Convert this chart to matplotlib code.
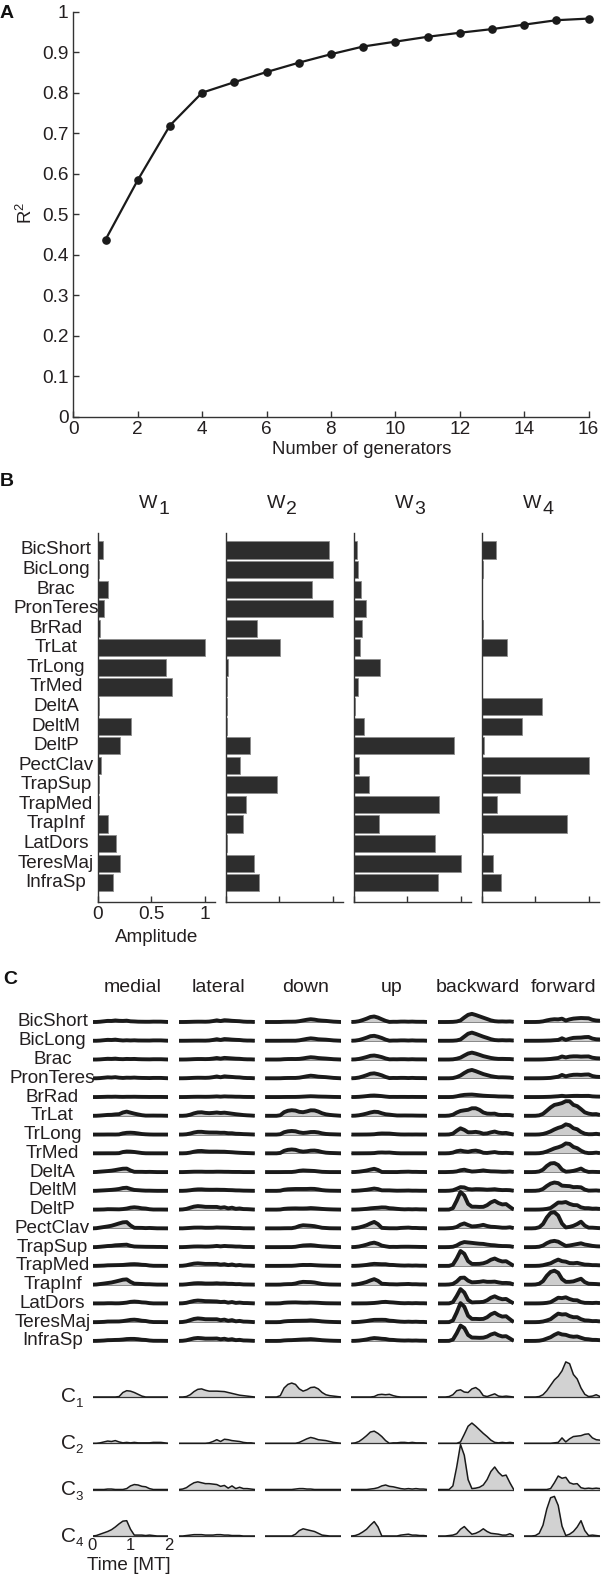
import numpy as np
import matplotlib
matplotlib.use('Agg')
import matplotlib.pyplot as plt

plt.rcParams['font.family'] = ['Liberation Sans', 'DejaVu Sans']
plt.rcParams['mathtext.fontset'] = 'custom'
plt.rcParams['mathtext.rm'] = 'Liberation Sans'
plt.rcParams['mathtext.it'] = 'Liberation Sans:italic'

# ---------------- data ----------------
n_generators = list(range(1, 17))
r2 = [0.437, 0.584, 0.719, 0.800, 0.826, 0.851, 0.874, 0.895, 0.914, 0.926,
      0.938, 0.948, 0.957, 0.968, 0.979, 0.983]

muscles = ['BicShort', 'BicLong', 'Brac', 'PronTeres', 'BrRad', 'TrLat', 'TrLong',
           'TrMed', 'DeltA', 'DeltM', 'DeltP', 'PectClav', 'TrapSup', 'TrapMed',
           'TrapInf', 'LatDors', 'TeresMaj', 'InfraSp']

W1 = [0.054, 0.01, 0.096, 0.06, 0.018, 1.0, 0.643, 0.693, 0.014, 0.31, 0.207,
      0.03, 0.01, 0.015, 0.10, 0.171, 0.21, 0.143]
W2 = [0.971, 1.0, 0.81, 1.0, 0.296, 0.507, 0.018, 0.014, 0.01, 0.01, 0.232,
      0.136, 0.482, 0.186, 0.164, 0.014, 0.264, 0.31]
W3 = [0.029, 0.036, 0.064, 0.114, 0.075, 0.057, 0.243, 0.039, 0.014, 0.10, 0.936,
      0.046, 0.143, 0.796, 0.236, 0.764, 1.0, 0.793]
W4 = [0.136, 0.014, 0.007, 0.005, 0.01, 0.239, 0.004, 0.007, 0.561, 0.375, 0.018,
      1.0, 0.361, 0.146, 0.796, 0.01, 0.107, 0.182]

directions = ['medial', 'lateral', 'down', 'up', 'backward', 'forward']
time_mt = np.round(np.arange(21) * 0.1, 1)   # 0 .. 2 MT

C1 = [
    [0, 0, 0, 0, 0, 0, 0, 0.01, 0.1, 0.14, 0.13, 0.1, 0.06, 0.02, 0, 0, 0, 0, 0, 0, 0],
    [0, 0, 0.01, 0.05, 0.12, 0.17, 0.18, 0.15, 0.13, 0.13, 0.13, 0.125, 0.12, 0.1, 0.08, 0.06, 0.04, 0.03, 0.02, 0.01, 0],
    [0, 0, 0, 0, 0.03, 0.2, 0.28, 0.31, 0.28, 0.18, 0.13, 0.16, 0.21, 0.22, 0.18, 0.1, 0.05, 0.03, 0.02, 0.01, 0],
    [0, 0, 0, 0, 0, 0, 0.01, 0.05, 0.06, 0.05, 0.06, 0.03, 0.01, 0, 0, 0, 0, 0, 0, 0, 0],
    [0, 0, 0, 0.01, 0.05, 0.14, 0.16, 0.11, 0.1, 0.18, 0.21, 0.15, 0.03, 0.01, 0.04, 0.07, 0.02, 0.01, 0.02, 0.01, 0],
    [0, 0, 0, 0, 0.01, 0.05, 0.14, 0.26, 0.38, 0.46, 0.58, 0.78, 0.74, 0.5, 0.4, 0.2, 0.06, 0.01, 0.02, 0.05, 0.01],
]
C2 = [
    [0, 0, 0.01, 0.03, 0.05, 0.04, 0.06, 0.03, 0.01, 0.02, 0.01, 0.02, 0.01, 0.01, 0.01, 0.01, 0.02, 0.02, 0.02, 0.01, 0],
    [0, 0, 0, 0, 0, 0, 0, 0, 0.01, 0.04, 0.08, 0.04, 0.09, 0.08, 0.06, 0.05, 0.04, 0.02, 0.01, 0.01, 0],
    [0, 0, 0, 0, 0, 0, 0, 0, 0, 0.02, 0.06, 0.1, 0.13, 0.11, 0.08, 0.07, 0.06, 0.04, 0.02, 0.01, 0],
    [0, 0.01, 0.04, 0.1, 0.17, 0.25, 0.27, 0.22, 0.15, 0.06, 0, 0.01, 0.01, 0.02, 0.02, 0.01, 0.02, 0.01, 0.01, 0.01, 0],
    [0, 0, 0, 0, 0, 0, 0.03, 0.2, 0.38, 0.45, 0.38, 0.3, 0.22, 0.15, 0.07, 0.02, 0.01, 0.02, 0.01, 0.02, 0.01],
    [0, 0, 0, 0, 0, 0, 0, 0, 0.01, 0.02, 0.12, 0.03, 0.1, 0.15, 0.16, 0.17, 0.2, 0.21, 0.12, 0.08, 0.07],
]
C3 = [
    [0, 0, 0, 0, 0.01, 0.01, 0, 0, 0, 0.02, 0.08, 0.11, 0.1, 0.07, 0.06, 0.02, 0, 0, 0, 0, 0],
    [0, 0.01, 0.04, 0.1, 0.15, 0.17, 0.15, 0.13, 0.13, 0.12, 0.11, 0.07, 0.09, 0.03, 0.08, 0.02, 0.05, 0.02, 0.02, 0.01, 0],
    [0, 0, 0, 0, 0, 0, 0, 0, 0.01, 0.02, 0.02, 0.01, 0.01, 0, 0, 0, 0, 0, 0, 0, 0],
    [0, 0, 0, 0, 0, 0.01, 0.02, 0.04, 0.08, 0.1, 0.07, 0.06, 0.04, 0.02, 0.01, 0.02, 0.01, 0.02, 0.01, 0.01, 0],
    [0, 0, 0, 0, 0.08, 0.5, 1.0, 0.76, 0.22, 0.02, 0.03, 0.05, 0.1, 0.22, 0.4, 0.5, 0.38, 0.3, 0.32, 0.15, 0],
    [0, 0, 0, 0, 0, 0, 0, 0.02, 0.15, 0.3, 0.25, 0.27, 0.15, 0.12, 0.13, 0.04, 0.02, 0.03, 0.02, 0.03, 0.02],
]
C4 = [
    [0, 0.01, 0.04, 0.07, 0.1, 0.14, 0.2, 0.27, 0.33, 0.34, 0.15, 0.02, 0.02, 0.02, 0.01, 0.02, 0.01, 0, 0, 0, 0],
    [0, 0, 0.01, 0.02, 0.03, 0.03, 0.03, 0.02, 0.02, 0.02, 0.03, 0.03, 0.02, 0.02, 0.01, 0.01, 0.01, 0, 0, 0, 0],
    [0, 0, 0, 0, 0, 0, 0, 0, 0.04, 0.12, 0.16, 0.14, 0.12, 0.1, 0.06, 0.02, 0.01, 0, 0, 0, 0],
    [0, 0.01, 0.04, 0.09, 0.15, 0.24, 0.32, 0.2, 0, 0, 0, 0, 0, 0.02, 0.03, 0.04, 0.02, 0.02, 0.01, 0.01, 0],
    [0, 0, 0, 0.01, 0.02, 0.05, 0.15, 0.21, 0.12, 0.04, 0.06, 0.1, 0.16, 0.1, 0.06, 0.05, 0.04, 0.02, 0.02, 0.05, 0.01],
    [0, 0, 0, 0.01, 0.06, 0.24, 0.6, 0.85, 0.88, 0.68, 0.22, 0.01, 0.04, 0.1, 0.2, 0.34, 0.12, 0.01, 0.02, 0.01, 0],
]

# ---------------- figure ----------------
FW, FH, DPI = 601, 1579, 100
fig = plt.figure(figsize=(FW / DPI, FH / DPI), dpi=DPI)
TXT = '#231f20'
LINE = '#1a1a1a'


def box(l, t, r, b):
    return [l / FW, 1 - b / FH, (r - l) / FW, (b - t) / FH]


def ftext(x, y, s, **kw):
    kw.setdefault('ha', 'center')
    kw.setdefault('va', 'center')
    kw.setdefault('color', TXT)
    fig.text(x / FW, 1 - y / FH, s, **kw)


FS = 13.3

# ---------------- Panel A ----------------
axA = fig.add_axes(box(73.3, 11.7, 588.5, 416.7))
axA.plot(n_generators, r2, color=LINE, lw=1.6, marker='o', ms=5.2,
         mfc=LINE, mec=LINE, clip_on=False, zorder=3)
axA.set_xlim(0, 16)
axA.set_ylim(0, 1)
axA.set_xticks(range(0, 17, 2))
yt = np.round(np.arange(0, 1.01, 0.1), 1)
axA.set_yticks(yt)
axA.set_yticklabels(['0'] + ['%.1f' % v for v in yt[1:-1]] + ['1'])
for s in ['top', 'right']:
    axA.spines[s].set_visible(False)
for s in ['left', 'bottom']:
    axA.spines[s].set_color('#333333')
    axA.spines[s].set_linewidth(1.0)
axA.tick_params(direction='in', length=4, width=1.0, color='#333333',
                labelsize=FS + 0.4, labelcolor=TXT)
axA.tick_params(axis='y', pad=3.5)
axA.tick_params(axis='x', pad=3)
ftext(362, 450, 'Number of generators', fontsize=FS)
ftext(26, 213, 'R$^2$', fontsize=FS, rotation=90)
ftext(0, 14, 'A', fontsize=14, fontweight='bold', ha='left', color='#111111')

# ---------------- Panel B ----------------
ftext(0, 482, 'B', fontsize=14, fontweight='bold', ha='left', color='#111111')
b_top, b_bot = 533, 902.3
b_first, b_gap = 550.0, 19.57
for k, w in enumerate([W1, W2, W3, W4]):
    l = 97.7 + 128 * k
    ax = fig.add_axes(box(l, b_top, l + 117.5, b_bot))
    ax.barh(range(len(muscles)), w, height=0.88, color='#2d2d2d',
            edgecolor='#8c8c8c', linewidth=0.6)
    ax.set_xlim(0, 1.1)
    ax.set_ylim(len(muscles) - 1 + (b_bot - (b_first + 17 * b_gap)) / b_gap,
                -(b_first - b_top) / b_gap)
    for s in ['top', 'right']:
        ax.spines[s].set_visible(False)
    for s in ['left', 'bottom']:
        ax.spines[s].set_color('#333333')
        ax.spines[s].set_linewidth(1.0)
    ax.set_yticks([])
    ax.set_xticks([0, 0.5, 1])
    ax.tick_params(axis='x', direction='in', length=4, width=1.0, color='#333333',
                   labelsize=FS + 0.4, labelcolor=TXT, pad=3)
    if k == 0:
        ax.set_xticklabels(['0', '0.5', '1'])
    else:
        ax.set_xticklabels([])
    cx = l + 117.5 / 2
    ftext(cx + 1, 503, 'W', fontsize=14, ha='right')
    ftext(cx + 2, 510, str(k + 1), fontsize=14, ha='left')
for i, m in enumerate(muscles):
    ftext(56, b_first + b_gap * i, m, fontsize=FS + 0.3)
ftext(157, 937, 'Amplitude', fontsize=FS + 0.3)

# ---------------- Panel C ----------------
ftext(3, 980, 'C', fontsize=14, fontweight='bold', ha='left', color='#111111')
Wmat = np.array([W1, W2, W3, W4])
C_all = [C1, C2, C3, C4]
mus_first, mus_gap, mus_unit = 1022.0, 18.76, 18.0
c_base = [1397.0, 1443.3, 1489.5, 1536.0]
c_unit = 45.0
col_w, col_pitch, col0 = 76.0, 86.3, 92.5
m_top, m_bot = 1003.0, 1352.0
c_top, c_bot = 1350.0, 1565.0

for j, d in enumerate(directions):
    l = col0 + col_pitch * j
    r = l + col_w
    ftext(l + col_w / 2 + 2, 988, d, fontsize=14)
    Cd = np.array([C_all[k][j] for k in range(4)])
    recon = Wmat.T @ Cd

    axm = fig.add_axes(box(l, m_top, r, m_bot))
    axm.set_xlim(0, 2)
    axm.set_ylim(-(m_bot - mus_first) / mus_unit, (mus_first - m_top) / mus_unit)
    for i in range(len(muscles)):
        base = -i * mus_gap / mus_unit
        axm.fill_between(time_mt, base, base + recon[i], color='#cdcdcd', lw=0)
        axm.plot([0, 2], [base, base], color='#777777', lw=0.6)
        axm.plot(time_mt, base + recon[i], color=LINE, lw=2.8,
                 solid_joinstyle='round', solid_capstyle='butt')
    axm.axis('off')

    axc = fig.add_axes(box(l, c_top, r, c_bot))
    axc.set_xlim(0, 2)
    axc.set_ylim(-(c_bot - c_base[0]) / c_unit, (c_base[0] - c_top) / c_unit)
    for k in range(4):
        base = -(c_base[k] - c_base[0]) / c_unit
        axc.fill_between(time_mt, base, base + Cd[k], color='#d2d2d2', lw=0)
        axc.plot([0, 2], [base, base], color='#333333', lw=0.9)
        axc.plot(time_mt, base + Cd[k], color=LINE, lw=1.1)
    axc.axis('off')

for i, m in enumerate(muscles):
    ftext(52.5, mus_first + mus_gap * i, m, fontsize=FS + 0.3)
for k in range(4):
    ftext(69, c_base[k], 'C', fontsize=15)
    ftext(79.5, c_base[k] + 7, str(k + 1), fontsize=9.5)
for t in [0, 1, 2]:
    ftext(col0 + t / 2 * col_w, 1546, str(t), fontsize=12)
ftext(129, 1566, 'Time [MT]', fontsize=FS + 0.3)

fig.savefig('out.png', dpi=DPI)
